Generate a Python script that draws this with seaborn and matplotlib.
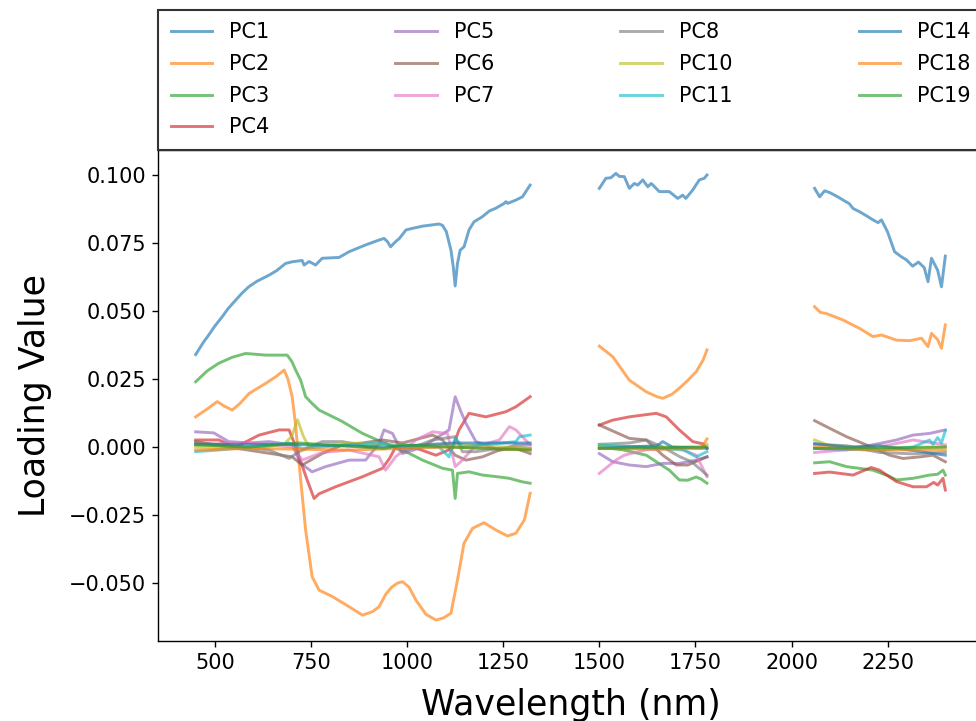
import numpy as np
import pandas as pd
import matplotlib
matplotlib.use("Agg")
import matplotlib.pyplot as plt
import seaborn as sns

# loadings, None = gap between spectral windows
pc1_wl = [450, 470, 484, 500, 519, 535, 554, 570, 588, 610, 641, 660, 684, 701, 727, 732, 745, 762, 779, 823,
          849, 892, 927, 940, 949, 957, 970, 980, 997, 1014, 1040, 1083, 1092, 1102, 1114, 1120, 1125, 1131, 1138,
          1148, 1161, 1174, 1196, 1214, 1231, 1253, 1257, 1262, 1283, 1300, 1320, None,
          1500, 1517, 1530, 1543, 1552, 1565, 1578, 1591, 1600, 1613, 1626, 1635, 1656, 1682, 1704, 1717, 1725,
          1743, 1760, 1773, 1780, None,
          2060, 2073, 2086, 2100, 2120, 2134, 2150, 2160, 2177, 2195, 2212, 2225, 2234, 2250, 2268, 2285, 2299,
          2315, 2330, 2345, 2355, 2364, 2380, 2390, 2400]
pc1_val = [.0340, .0385, .0412, .0445, .0479, .0510, .0540, .0565, .0589, .0610, .0632, .0648, .0675, .0681,
           .0686, .0669, .0682, .0669, .0694, .0697, .0718, .0743, .0761, .0767, .0755, .0736, .0755, .0767,
           .0798, .0804, .0812, .0820, .0815, .0792, .0724, .0663, .0592, .0675, .0724, .0736, .0798, .0828,
           .0847, .0868, .0878, .0896, .0902, .0896, .0908, .0920, .0963, None,
           .0951, .0988, .0990, .1006, .0995, .0994, .0951, .0969, .0963, .0982, .0957, .0969, .0939, .0939,
           .0914, .0926, .0914, .0945, .0982, .0988, .1000, None,
           .0951, .0920, .0942, .0935, .0920, .0908, .0895, .0877, .0865, .0850, .0835, .0825, .0835, .0790,
           .0718, .0700, .0688, .0665, .0680, .0660, .0608, .0694, .0650, .0589, .0702]

pc2_wl = [450, 480, 506, 525, 545, 565, 589, 632, 660, 680, 690, 701, 710, 719, 736, 753, 771, 806, 849, 884,
          910, 927, 945, 960, 975, 988, 1005, 1023, 1049, 1075, 1095, 1114, 1131, 1148, 1170, 1200, 1231, 1261,
          1283, 1305, 1320, None,
          1500, 1535, 1578, 1622, 1650, 1665, 1690, 1708, 1730, 1752, 1770, 1780, None,
          2060, 2075, 2090, 2134, 2177, 2212, 2234, 2273, 2307, 2338, 2355, 2364, 2380, 2390, 2400]
pc2_val = [.0111, .0140, .0167, .0150, .0136, .0160, .0197, .0234, .0260, .0283, .0250, .0185, .0080, -.0060,
           -.0305, -.0477, -.0526, -.0550, -.0587, -.0618, -.0605, -.0587, -.0540, -.0515, -.0500, -.0495,
           -.0515, -.0563, -.0615, -.0636, -.0628, -.0611, -.0489, -.0354, -.0299, -.0278, -.0305, -.0327,
           -.0317, -.0268, -.0170, None,
           .0371, .0332, .0246, .0203, .0185, .0179, .0195, .0216, .0245, .0277, .0320, .0357, None,
           .0516, .0495, .0491, .0467, .0436, .0406, .0412, .0393, .0391, .0400, .0369, .0418, .0395, .0363, .0449]

pc3_wl = [450, 480, 510, 545, 580, 632, 676, 688, 700, 710, 723, 736, 753, 771, 830, 884, 940, 988, 1040, 1092,
          1118, 1125, 1131, 1161, 1196, 1240, 1266, 1300, 1320, None,
          1500, 1560, 1622, 1660, 1682, 1708, 1730, 1752, 1765, 1780, None,
          2060, 2099, 2143, 2212, 2250, 2273, 2316, 2359, 2380, 2394, 2400]
pc3_val = [.0240, .0280, .0308, .0330, .0344, .0338, .0338, .0338, .0315, .0283, .0246, .0185, .0160, .0136,
           .0095, .0050, .0015, -.0011, -.0048, -.0078, -.0085, -.0189, -.0097, -.0091, -.0103, -.0110, -.0115,
           -.0128, -.0133, None,
           .0000, -.0010, -.0030, -.0065, -.0085, -.0121, -.0122, -.0110, -.0118, -.0133, None,
           -.0058, -.0054, -.0072, -.0085, -.0105, -.0121, -.0115, -.0103, -.0100, -.0085, -.0103]

pc4_wl = [450, 510, 554, 615, 667, 693, 705, 719, 740, 758, 771, 814, 884, 936, 955, 970, 1023, 1075, 1118,
          1135, 1161, 1205, 1257, 1283, 1320, None,
          1500, 1535, 1578, 1648, 1674, 1708, 1743, 1769, 1780, None,
          2060, 2099, 2160, 2207, 2229, 2273, 2316, 2351, 2370, 2380, 2394, 2400]
pc4_val = [.0026, .0026, .0000, .0044, .0063, .0063, .0020, -.0036, -.0121, -.0189, -.0172, -.0146, -.0109,
           -.0078, -.0040, .0000, -.0004, -.0030, -.0005, .0063, .0124, .0111, .0130, .0148, .0185, None,
           .0081, .0099, .0111, .0124, .0111, .0063, .0020, .0012, -.0005, None,
           -.0097, -.0092, -.0103, -.0075, -.0085, -.0127, -.0146, -.0146, -.0130, -.0140, -.0115, -.0158]

pc5_wl = [450, 497, 536, 589, 641, 702, 723, 753, 788, 849, 892, 927, 940, 962, 988, 1040, 1109, 1125, 1140,
          1153, 1179, 1240, 1283, 1320, None,
          1500, 1535, 1578, 1622, 1665, 1708, 1752, 1780, None,
          2060, 2143, 2229, 2273, 2316, 2359, 2400]
pc5_val = [.0056, .0052, .0020, .0015, .0020, .0008, -.0060, -.0091, -.0072, -.0048, -.0048, .0013, .0063,
           .0050, -.0024, .0000, .0063, .0185, .0130, .0087, .0020, -.0011, .0008, .0008, None,
           -.0024, -.0054, -.0066, -.0072, -.0060, -.0060, -.0048, -.0036, None,
           -.0005, -.0010, .0013, .0026, .0044, .0050, .0063]

pc6_wl = [450, 554, 701, 727, 779, 832, 884, 936, 988, 1066, 1092, 1125, 1153, 1196, 1240, 1283, 1320, None,
          1500, 1578, 1622, 1665, 1700, 1730, 1780, None,
          2060, 2099, 2143, 2186, 2255, 2290, 2334, 2368, 2400]
pc6_val = [.0020, -.0004, -.0036, -.0066, -.0024, .0008, .0015, .0026, .0015, .0044, .0026, -.0030, -.0048,
           -.0036, -.0011, -.0005, -.0024, None,
           .0081, .0032, .0026, -.0030, -.0066, -.0066, -.0036, None,
           .0097, .0069, .0038, .0013, -.0030, -.0042, -.0036, -.0030, -.0054]

pc7_wl = [450, 589, 702, 727, 779, 849, 927, 944, 970, 1023, 1066, 1105, 1125, 1144, 1174, 1240, 1266, 1283,
          1320, None,
          1500, 1543, 1565, 1622, 1708, 1752, 1780, None,
          2060, 2229, 2316, 2400]
pc7_val = [.0010, .0015, .0000, -.0048, -.0020, -.0011, -.0036, -.0085, -.0036, .0026, .0056, .0050, -.0072,
           -.0048, .0000, .0026, .0075, .0063, .0008, None,
           -.0097, -.0048, -.0030, -.0010, -.0005, -.0030, -.0109, None,
           -.0020, .0000, .0026, .0008]

pc8_wl = [450, 554, 641, 693, 719, 779, 832, 901, 944, 988, 1066, 1125, 1144, 1179, 1240, 1283, 1320, None,
          1500, 1578, 1622, 1665, 1710, 1740, 1780, None,
          2060, 2143, 2229, 2316, 2400]
pc8_val = [.0015, .0004, -.0011, -.0042, -.0017, .0020, .0020, .0000, .0015, -.0017, .0026, .0038, -.0017,
           -.0017, -.0005, .0000, -.0005, None,
           .0010, .0015, .0026, .0000, -.0036, -.0054, -.0103, None,
           .0010, .0005, -.0020, -.0025, -.0020]

pc10_wl = [450, 600, 680, 700, 715, 730, 745, 849, 1000, 1125, 1320, None,
           1500, 1650, 1760, 1780, None,
           2060, 2099, 2229, 2400]
pc10_val = [.0000, -.0004, .0010, .0040, .0100, .0040, .0000, .0015, .0005, .0010, -.0005, None,
            .0005, .0000, .0000, .0010, None,
            .0026, .0005, -.0010, .0000]

pc11_wl = [450, 510, 589, 693, 727, 927, 988, 1083, 1109, 1125, 1144, 1196, 1283, 1292, 1320, None,
           1500, 1665, 1720, 1752, 1780, None,
           2060, 2229, 2316, 2359, 2368, 2380, 2390, 2400]
pc11_val = [-.0017, -.0011, .0000, .0015, -.0005, .0015, .0000, .0000, -.0036, .0033, .0000, .0008, .0020,
            .0038, .0044, None,
            .0008, -.0005, -.0011, -.0036, -.0017, None,
            -.0005, -.0011, .0000, .0026, .0010, .0035, .0015, .0060]

pc14_wl = [450, 702, 940, 1125, 1320, None, 1500, 1650, 1665, 1690, 1780, None, 2060, 2143, 2229, 2400]
pc14_val = [.0010, .0010, .0000, .0015, .0015, None, -.0005, .0005, .0020, .0000, -.0005, None,
            .0013, .0000, .0005, -.0030]

pc18_wl = [450, 589, 849, 1109, 1320, None, 1500, 1650, 1765, 1780, None, 2060, 2186, 2400]
pc18_val = [-.0011, -.0005, -.0011, .0000, -.0011, None, -.0005, -.0008, -.0005, .0030, None,
            .0000, -.0010, -.0011]

pc19_wl = [450, 589, 719, 940, 988, 1109, 1320, None, 1500, 1780, None, 2060, 2400]
pc19_val = [.0008, .0000, .0015, -.0005, .0008, .0000, -.0011, None, -.0005, .0000, None, -.0005, .0000]

names = ["PC1", "PC2", "PC3", "PC4", "PC5", "PC6", "PC7", "PC8", "PC10", "PC11", "PC14", "PC18", "PC19"]
series = [(pc1_wl, pc1_val), (pc2_wl, pc2_val), (pc3_wl, pc3_val), (pc4_wl, pc4_val), (pc5_wl, pc5_val),
          (pc6_wl, pc6_val), (pc7_wl, pc7_val), (pc8_wl, pc8_val), (pc10_wl, pc10_val), (pc11_wl, pc11_val),
          (pc14_wl, pc14_val), (pc18_wl, pc18_val), (pc19_wl, pc19_val)]

frames = []
for name, (wl, val) in zip(names, series):
    d = pd.DataFrame({"wl": wl, "val": val}, dtype=float)
    d["seg"] = d["wl"].isna().cumsum()
    d = d.dropna()
    d["pc"] = name
    frames.append(d)
df = pd.concat(frames, ignore_index=True)

tab = sns.color_palette("tab10")
palette = {n: tab[i % 10] for i, n in enumerate(names)}

fig = plt.figure(figsize=(9.76, 7.21), dpi=100)
ax = fig.add_axes([158 / 976, 80 / 721, 825 / 976, 491 / 721])

sns.lineplot(data=df, x="wl", y="val", hue="pc", hue_order=names, units="seg", estimator=None,
             sort=False, palette=palette, alpha=0.65, linewidth=2.1, ax=ax)

ax.set_xlim(352, 2498)
ax.set_ylim(-0.0713, 0.1092)
ax.set_xticks([500, 750, 1000, 1250, 1500, 1750, 2000, 2250])
ax.set_yticks([-0.05, -0.025, 0, 0.025, 0.05, 0.075, 0.1])
ax.tick_params(labelsize=15, length=4.4, width=1.0, pad=4.4)
for sp in ax.spines.values():
    sp.set_linewidth(1.0)
ax.set_xlabel("Wavelength (nm)", fontsize=25, labelpad=11)
ax.set_ylabel("Loading Value", fontsize=25, labelpad=12)

handles, labels = ax.get_legend_handles_labels()
leg = ax.legend(handles, labels, ncol=4, loc="lower left", bbox_to_anchor=(0., 1., 1., 0.3),
                mode="expand", borderaxespad=0., fancybox=False, edgecolor="#333333",
                framealpha=1, fontsize=15, labelspacing=0.56, borderpad=0.6)
leg.get_frame().set_linewidth(1.5)

fig.savefig("out.png", dpi=100)
